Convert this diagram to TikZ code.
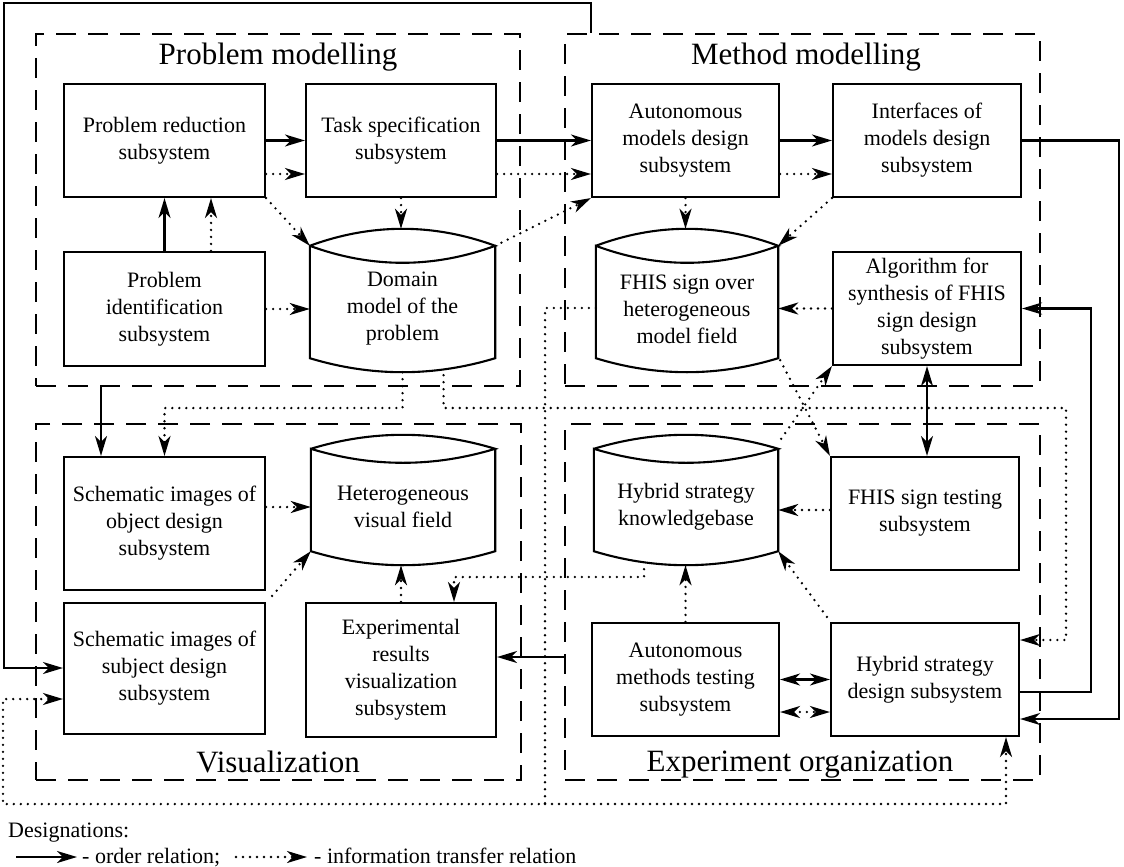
\documentclass[tikz,border=0pt]{standalone}
\usepackage{fontspec}
\setmainfont{Liberation Serif}
\usetikzlibrary{arrows.meta,calc}

\newcommand\drawcyl[3]{%
  \draw[cylline] let \p1=(#1.north west), \p2=(#1.south east), \n1={(\x2-\x1)/3}, \n2={#2}, \n3={#3} in
  (\x1,\y1-\n2) .. controls (\x1+\n1,\y1+\n2/3) and (\x2-\n1,\y1+\n2/3) .. (\x2,\y1-\n2)
  .. controls (\x2-\n1,\y1-\n2-4*\n2/3) and (\x1+\n1,\y1-\n2-4*\n2/3) .. (\x1,\y1-\n2)
  -- (\x1,\y2+\n3) .. controls (\x1+\n1,\y2+\n3-4*\n3/3) and (\x2-\n1,\y2+\n3-4*\n3/3) .. (\x2,\y2+\n3)
  -- (\x2,\y1-\n2);}

\begin{document}
\begin{tikzpicture}[x=1pt,y=-1pt,
  >={Stealth[length=20pt,width=12pt,inset=6pt]},
  box/.style={draw, line width=2.1pt, align=center, inner sep=0pt,
    font=\fontsize{22}{27}\selectfont},
  cylbox/.style={inner sep=0pt},
  cylline/.style={line width=2.1pt, line join=miter},
  cyltext/.style={align=center, inner sep=0pt, font=\fontsize{22}{27}\selectfont},
  group/.style={draw, line width=2.8pt, dash pattern=on 20pt off 12pt, inner sep=0pt},
  title/.style={anchor=base, inner sep=0pt, font=\fontsize{31}{37}\selectfont},
  legend/.style={anchor=base west, inner sep=0pt, font=\fontsize{22}{27}\selectfont},
  ord/.style={line width=2.2pt},
  inf/.style={line width=2.6pt, dash pattern=on 0pt off 7pt, line cap=round}
]
\fill[white] (0,0) rectangle (1124,867);
\useasboundingbox (0,0) rectangle (1124,867);

% groups
\node[group, minimum width=484pt, minimum height=352pt] (pm) at (278,210) {};
\node[group, minimum width=475pt, minimum height=352pt] (mm) at (802.5,210) {};
\node[group, minimum width=485pt, minimum height=356pt] (vi) at (278.5,602) {};
\node[group, minimum width=475pt, minimum height=356pt] (eo) at (802.5,602) {};
\node[title] (pmt) at (278,65) {Problem modelling};
\node[title] (mmt) at (806,65) {Method modelling};
\node[title] (vit) at (278,772) {Visualization};
\node[title] (eot) at (800,771) {Experiment organization};

% boxes
\node[box, minimum width=201pt, minimum height=113pt] (pr) at (164.5,140.5) {Problem reduction\\subsystem};
\node[box, minimum width=190pt, minimum height=113pt] (ts) at (401,140.5) {Task specification\\subsystem};
\node[box, minimum width=201pt, minimum height=114pt] (pi) at (164.5,309) {Problem\\identification\\subsystem};
\node[box, minimum width=187pt, minimum height=113pt] (am) at (685.5,140.5) {Autonomous\\models design\\subsystem};
\node[box, minimum width=188pt, minimum height=113pt] (im) at (927,140.5) {Interfaces of\\models design\\subsystem};
\node[box, minimum width=188pt, minimum height=113pt] (al) at (927,308.5) {Algorithm for\\synthesis of FHIS\\sign design\\subsystem};
\node[box, minimum width=201pt, minimum height=133pt] (so) at (164.5,523.5) {Schematic images of\\object design\\subsystem};
\node[box, minimum width=201pt, minimum height=131pt] (ss) at (164.5,668.5) {Schematic images of\\subject design\\subsystem};
\node[box, minimum width=190pt, minimum height=134pt] (er) at (401,670) {Experimental\\results\\visualization\\subsystem};
\node[box, minimum width=188pt, minimum height=113pt] (ft) at (925,513.5) {FHIS sign testing\\subsystem};
\node[box, minimum width=187pt, minimum height=113pt] (amt) at (685.5,679.5) {Autonomous\\methods testing\\subsystem};
\node[box, minimum width=188pt, minimum height=113pt] (hd) at (925,679.5) {Hybrid strategy\\design subsystem};

% cylinders
\node[cylbox, minimum width=185pt, minimum height=143pt] (dm) at (402.5,300.5) {};
\node[cylbox, minimum width=182pt, minimum height=143pt] (fs) at (687,300.5) {};
\node[cylbox, minimum width=184pt, minimum height=130pt] (hv) at (403,500) {};
\node[cylbox, minimum width=184pt, minimum height=130pt] (kb) at (686,500) {};
\drawcyl{dm}{17}{14}
\drawcyl{fs}{17}{14}
\drawcyl{hv}{14}{14}
\drawcyl{kb}{14}{14}
\node[cyltext] (dmt) at (402.5,309) {Domain\\model of the\\problem};
\node[cyltext] (fst) at (687,309) {FHIS sign over\\heterogeneous\\model field};
\node[cyltext] (hvt) at (403,507) {Heterogeneous\\visual field};
\node[cyltext] (kbt) at (686,507) {Hybrid strategy\\knowledgebase};

% problem modelling connectors
\draw[ord,->] (pr.east) -- (ts.west);
\draw[inf,->] (pr.east |- 0,174) -- (ts.west |- 0,174);
\draw[ord,->] (pi.north) -- (pr.south);
\draw[inf,->] (pi.north -| 211,0) -- (pr.south -| 211,0);
\draw[inf,->] (pr.south east) -- ([yshift=-17pt]dm.north west);
\draw[inf,->] (ts.south) -- (ts.south |- dm.north);
\draw[inf,->] (pi.east) -- (pi.east -| dm.west);
\draw[ord,->] (ts.east) -- (am.west);
\draw[inf,->] (ts.east |- 0,174) -- (am.west |- 0,174);
\draw[inf,->] ([yshift=-17pt]dm.north east) -- (am.south west);

% method modelling connectors
\draw[ord,->] (am.east) -- (im.west);
\draw[inf,->] (am.east |- 0,174) -- (im.west |- 0,174);
\draw[inf,->] (am.south) -- (am.south |- fs.north);
\draw[inf,->] (im.south west) -- ([yshift=-17pt]fs.north east);
\draw[ord,->] (im.east) -- (1119,140.5) |- (hd.east |- 0,719);
\draw[ord,->] (hd.east |- 0,692) -- (1091,692) |- (al.east);
\draw[ord,<->] (al.south) -- (al.south |- ft.north);
\draw[inf,->] (al.west) -- (al.west -| fs.east);
\draw[inf,->] ([shift={(3pt,-4pt)}]kb.north east) -- (al.south west);
\draw[inf,->] ([shift={(2pt,12pt)}]fs.south east) -- (ft.north west);

% experiment organization connectors
\draw[inf,->] (ft.west |- 0,510) -- (kb.east |- 0,510);
\draw[inf,->] (amt.north) -- (amt.north |- kb.south);
\draw[inf,->] ([shift={(-3pt,5pt)}]hd.north west) -- ([yshift=14pt]kb.south east);
\draw[ord,<->] (amt.east) -- (hd.west);
\draw[inf,<->] (amt.east |- 0,712) -- (hd.west |- 0,712);
\draw[ord,->] (eo.west |- 0,657) -- (er.east |- 0,657);

% cross-group connectors
\draw[ord,->] (pm.south -| 101,0) -- (so.north -| 101,0);
\draw[ord,->] (mm.north -| 591,0) |- (4,3) |- (ss.west |- 0,668);
\draw[inf,->] (dm.south) |- (so.north |- 0,408) -- (so.north);
\draw[inf,->] ([shift={(41pt,-3pt)}]dm.south) |- (1066,408) |- (hd.east |- 0,640);
\draw[inf,->] (fs.west |- 0,308) -- (545,308) -- (545,804) coordinate (jn) -- (3,804) |- (ss.west |- 0,699);
\draw[inf,->] (jn) -| (hd.south -| 1006,0);
\draw[inf,->] ([shift={(-42pt,-4pt)}]kb.south) |- (454,577) -- (er.north -| 454,0);

% visualization connectors
\draw[inf,->] (er.north) -- (er.north |- hv.south);
\draw[inf,->] (so.east |- 0,507) -- (hv.west |- 0,507);
\draw[inf,->] ([shift={(6pt,6pt)}]ss.north east) -- ([yshift=14pt]hv.south west);

% legend
\node[legend] (des) at (8,837) {Designations:};
\node[legend] (lot) at (82,863) {- order relation;};
\node[legend] (lit) at (314,863) {- information transfer relation};
\coordinate (lo) at (16,857);
\coordinate (li) at (236,857);
\draw[ord,->] (lo) -- ([xshift=-5pt]lo -| lot.west);
\draw[inf,->] (li) -- ([xshift=-7pt]li -| lit.west);
\end{tikzpicture}
\end{document}
